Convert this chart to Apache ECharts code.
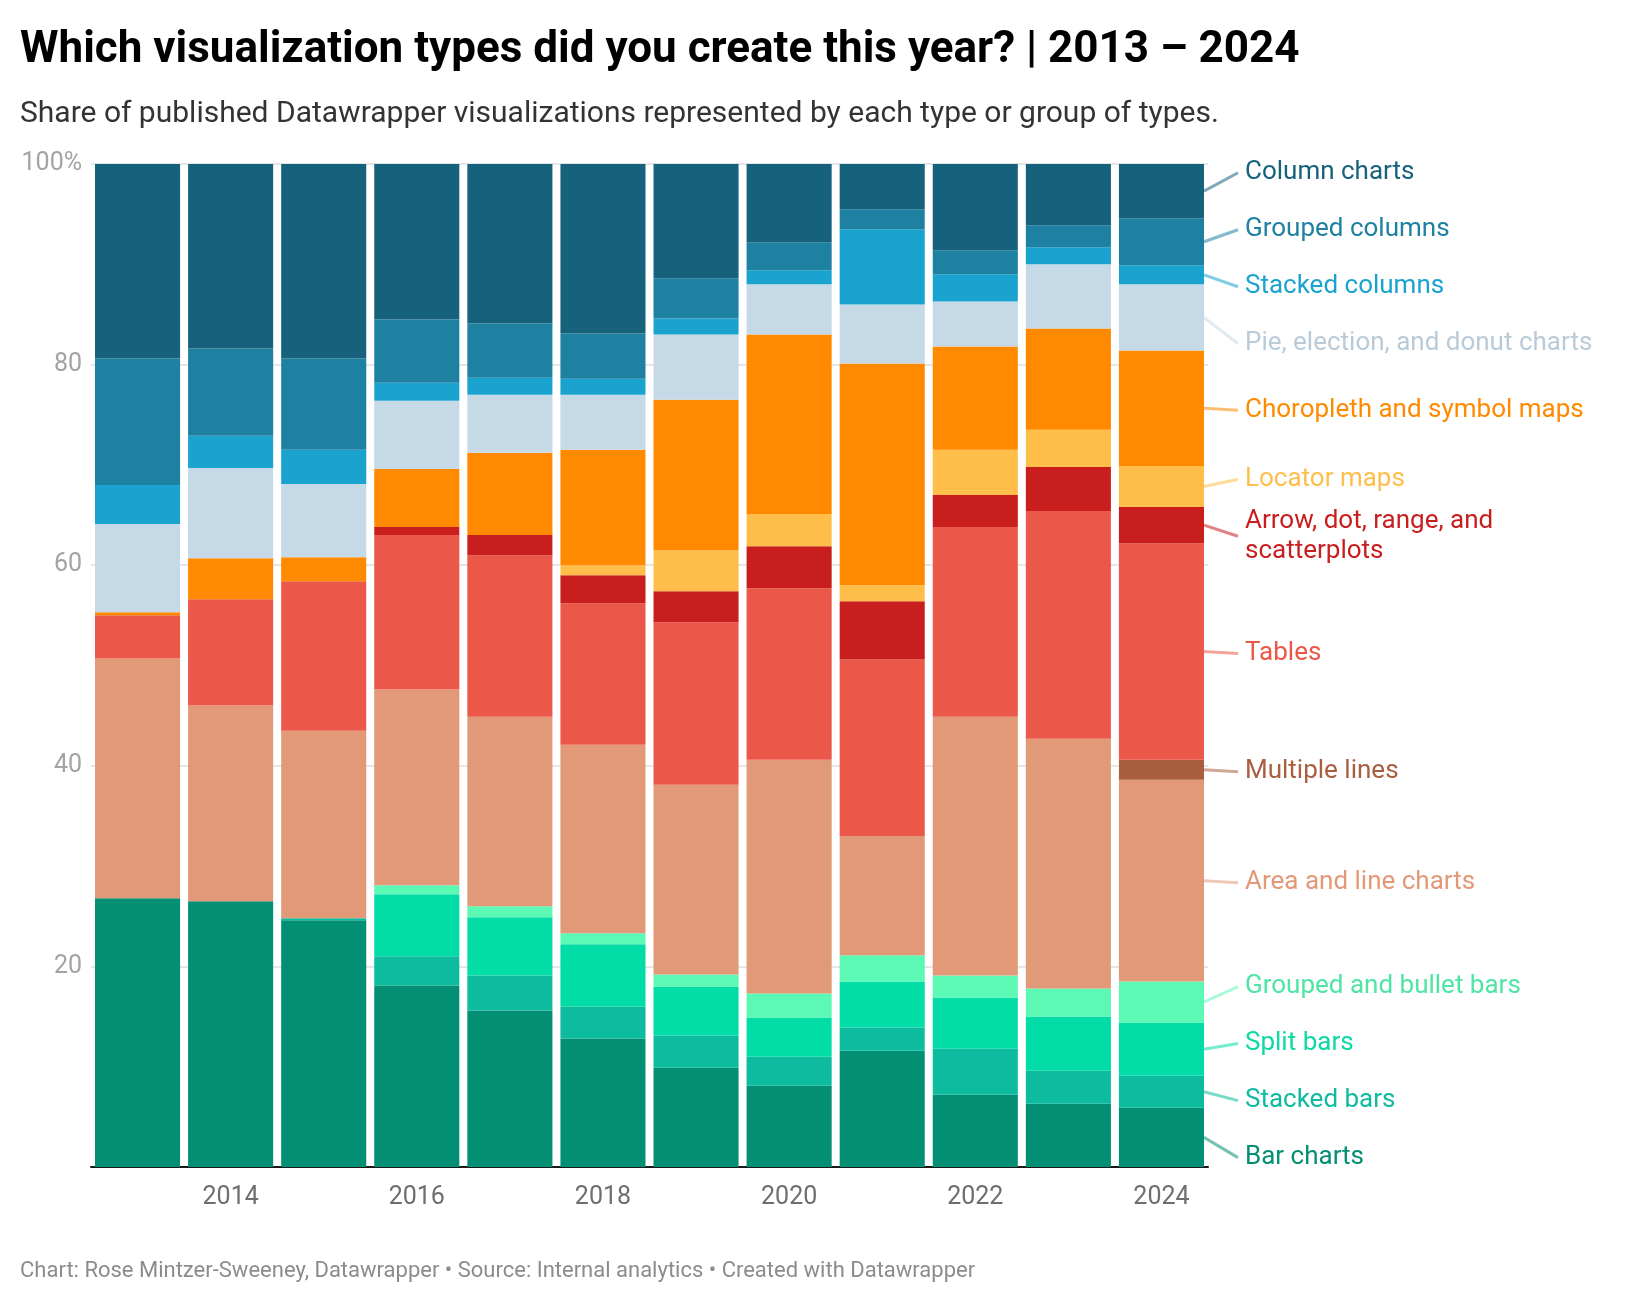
<!DOCTYPE html>
<html>
<head>
<meta charset="utf-8">
<script src="https://cdn.jsdelivr.net/npm/echarts@6/dist/echarts.min.js"></script>
<style>
html,body{margin:0;padding:0;background:#fff;}
#chart{width:1640px;height:1302px;}
</style>
</head>
<body>
<div id="chart"></div>
<script>
// ---------- DATA ----------
const years = ['2013','2014','2015','2016','2017','2018','2019','2020','2021','2022','2023','2024'];
const yTicks = [0, 20, 40, 60, 80, 100];

// Series, stacked bottom -> top (share in %)
const barCharts      = [26.8, 26.5, 24.6, 18.1, 15.6, 12.8,  9.9,  8.1, 11.6,  7.2,  6.3,  5.9];
const stackedBars    = [ 0.0,  0.0,  0.2,  2.9,  3.5,  3.2,  3.2,  2.9,  2.3,  4.6,  3.3,  3.2];
const splitBars      = [ 0.0,  0.0,  0.0,  6.2,  5.8,  6.2,  4.9,  3.9,  4.6,  5.1,  5.4,  5.3];
const groupedBars    = [ 0.0,  0.0,  0.0,  0.9,  1.1,  1.1,  1.2,  2.4,  2.6,  2.2,  2.8,  4.1];
const areaLine       = [23.9, 19.5, 18.7, 19.5, 18.9, 18.8, 18.9, 23.3, 11.9, 25.8, 24.9, 20.1];
const multipleLines  = [ 0.0,  0.0,  0.0,  0.0,  0.0,  0.0,  0.0,  0.0,  0.0,  0.0,  0.0,  2.0];
const tables         = [ 4.3, 10.6, 14.9, 15.4, 16.1, 14.1, 16.2, 17.1, 17.6, 18.9, 22.7, 21.6];
const arrowDot       = [ 0.0,  0.0,  0.0,  0.8,  2.0,  2.8,  3.1,  4.2,  5.8,  3.2,  4.4,  3.6];
const locatorMaps    = [ 0.0,  0.0,  0.0,  0.0,  0.0,  1.0,  4.1,  3.2,  1.6,  4.5,  3.7,  4.1];
const choropleth     = [ 0.3,  4.1,  2.4,  5.8,  8.2, 11.5, 15.0, 17.9, 22.1, 10.3, 10.1, 11.5];
const pieDonut       = [ 8.8,  9.0,  7.3,  6.8,  5.8,  5.5,  6.5,  5.0,  5.9,  4.5,  6.4,  6.6];
const stackedColumns = [ 3.9,  3.2,  3.4,  1.8,  1.7,  1.6,  1.6,  1.4,  7.5,  2.7,  1.7,  1.9];
const groupedColumns = [12.6,  8.7,  9.1,  6.3,  5.4,  4.5,  4.0,  2.8,  2.0,  2.4,  2.2,  4.7];
const columnCharts   = [19.4, 18.4, 19.4, 15.5, 15.9, 16.9, 11.4,  7.8,  4.5,  8.6,  6.1,  5.4];

const seriesNames = [
  'Bar charts', 'Stacked bars', 'Split bars', 'Grouped and bullet bars',
  'Area and line charts', 'Multiple lines', 'Tables',
  'Arrow, dot, range, and scatterplots', 'Locator maps',
  'Choropleth and symbol maps', 'Pie, election, and donut charts',
  'Stacked columns', 'Grouped columns', 'Column charts'
];
const labelTexts = [
  'Bar charts', 'Stacked bars', 'Split bars', 'Grouped and bullet bars',
  'Area and line charts', 'Multiple lines', 'Tables',
  'Arrow, dot, range, and\nscatterplots', 'Locator maps',
  'Choropleth and symbol maps', 'Pie, election, and donut charts',
  'Stacked columns', 'Grouped columns', 'Column charts'
];
const seriesData = [barCharts, stackedBars, splitBars, groupedBars, areaLine, multipleLines,
  tables, arrowDot, locatorMaps, choropleth, pieDonut, stackedColumns, groupedColumns, columnCharts];

// ---------- STYLE ----------
const barColors = ['#038f74', '#0dbb9f', '#02dca6', '#5bf9b4', '#e29978', '#a95e40', '#eb5749',
  '#c91e1e', '#ffbd4a', '#ff8a00', '#c5d9e6', '#1aa3cf', '#1e81a2', '#16627d'];
const textColors = ['#038f74', '#0dbb9f', '#0cd9a3', '#4ee5a5', '#e29978', '#a95e40', '#eb5749',
  '#c91e1e', '#ffbd4a', '#ff8a00', '#b9cbd8', '#1aa3cf', '#1e81a2', '#16627d'];
const FONT = 'Roboto, "Noto Sans", sans-serif';

const chart = echarts.init(document.getElementById('chart'), null, {renderer: 'canvas'});

const option = {
  animation: false,
  backgroundColor: '#ffffff',
  title: [
    {
      text: 'Which visualization types did you create this year? | 2013 – 2024',
      left: 20, top: 29, padding: 0,
      textStyle: {fontFamily: FONT, fontWeight: 'bold', fontSize: 44, color: '#000000'}
    },
    {
      text: 'Share of published Datawrapper visualizations represented by each type or group of types.',
      left: 20, top: 99, padding: 0,
      textStyle: {fontFamily: FONT, fontWeight: 'normal', fontSize: 30, color: '#333333'}
    },
    {
      text: 'Chart: Rose Mintzer-Sweeney, Datawrapper • Source: Internal analytics • Created with Datawrapper',
      left: 20, top: 1260, padding: 0,
      textStyle: {fontFamily: FONT, fontWeight: 'normal', fontSize: 22, color: '#8c8c8c'}
    }
  ],
  grid: {left: 91, width: 1117, top: 164, height: 1003, containLabel: false},
  xAxis: {
    type: 'category',
    data: years,
    axisTick: {show: false},
    axisLine: {show: true, lineStyle: {color: '#1a1a1a', width: 2}},
    axisLabel: {
      interval: function (idx) { return idx % 2 === 1; },
      fontFamily: FONT, fontSize: 25, color: '#6e6e6e', margin: 18
    },
    splitLine: {show: false}
  },
  yAxis: {
    type: 'value',
    min: yTicks[0], max: yTicks[yTicks.length - 1], interval: 20,
    axisLine: {show: false},
    axisTick: {show: false},
    axisLabel: {
      fontFamily: FONT, fontSize: 25, color: '#a3a3a3', margin: 9,
      padding: [7, 0, 0, 0],
      formatter: function (v) { return v === 100 ? '100%' : (v === 0 ? '' : String(v)); }
    },
    splitLine: {show: true, lineStyle: {color: '#e6e6e6', width: 2}}
  },
  series: seriesNames.map(function (name, i) {
    return {
      name: name,
      type: 'bar',
      stack: 'total',
      barCategoryGap: '8.6%',
      data: seriesData[i],
      itemStyle: {color: barColors[i]},
      emphasis: {disabled: true},
      silent: true
    };
  })
};

chart.setOption(option);

// ---------- right-hand labels placed from the library's scales ----------
function placeLabels() {
  const last = years.length - 1;
  const c0 = chart.convertToPixel({gridIndex: 0}, [0, 0])[0];
  const c1 = chart.convertToPixel({gridIndex: 0}, [1, 0])[0];
  const band = c1 - c0;
  const centerLast = chart.convertToPixel({gridIndex: 0}, [last, 0])[0];
  const barRight = centerLast + band * (1 - 0.086) / 2;

  // desired y (segment middle of last year) for each series
  let cum = 0;
  const desired = [];
  for (let i = 0; i < seriesData.length; i++) {
    const v = seriesData[i][last];
    const mid = cum + v / 2;
    cum += v;
    desired.push({i: i, y: chart.convertToPixel({gridIndex: 0}, [last, mid])[1]});
  }
  desired.sort(function (a, b) { return a.y - b.y; });

  // cluster-based overlap removal
  const spacing = 57;
  let groups = desired.map(function (d) { return {items: [d], sum: d.y}; });
  function startOf(g) { return g.sum / g.items.length - (g.items.length - 1) / 2 * spacing; }
  let changed = true;
  while (changed) {
    changed = false;
    for (let k = 0; k < groups.length - 1; k++) {
      const a = groups[k], b = groups[k + 1];
      const aEnd = startOf(a) + (a.items.length - 1) * spacing;
      if (startOf(b) - aEnd < spacing) {
        groups.splice(k, 2, {items: a.items.concat(b.items), sum: a.sum + b.sum});
        changed = true;
        break;
      }
    }
  }
  const elements = [];
  const textShift = 2;
  groups.forEach(function (g) {
    const s = startOf(g);
    g.items.forEach(function (d, j) {
      const ly = s + j * spacing + textShift;
      elements.push({
        type: 'line', silent: true,
        shape: {x1: barRight, y1: d.y, x2: barRight + 34, y2: ly},
        style: {stroke: barColors[d.i], lineWidth: 3, opacity: 0.55}
      });
      elements.push({
        type: 'text', silent: true,
        style: {
          text: labelTexts[d.i], x: barRight + 41, y: ly,
          fill: textColors[d.i], font: '26px ' + FONT,
          align: 'left', verticalAlign: 'middle',
          textAlign: 'left', textVerticalAlign: 'middle', lineHeight: 30
        }
      });
    });
  });
  chart.setOption({graphic: {elements: elements}});
}
placeLabels();
</script>
</body>
</html>
